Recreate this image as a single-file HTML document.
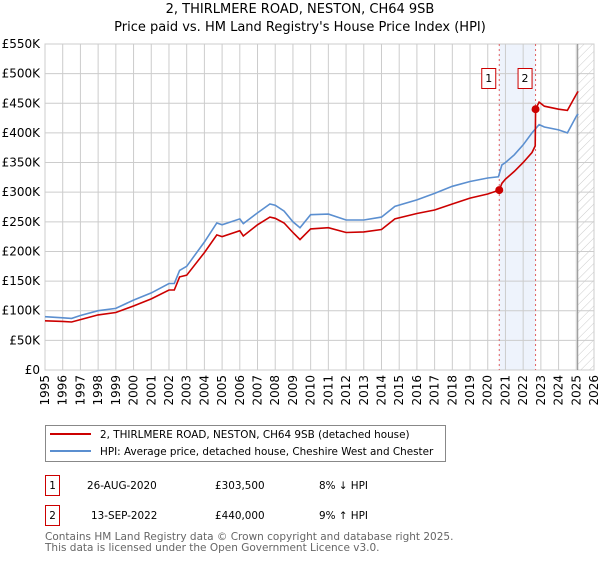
<!DOCTYPE html>
<html><head><meta charset="utf-8"><style>
body{margin:0;background:#fff;font-family:"DejaVu Sans","Liberation Sans",sans-serif;}
svg text{font-family:"DejaVu Sans","Liberation Sans",sans-serif;}
</style></head><body>
<svg id="chart" width="600" height="560" xmlns="http://www.w3.org/2000/svg">
<defs><pattern id="hatch" width="6" height="6" patternUnits="userSpaceOnUse" patternTransform="rotate(45)"><line x1="0" y1="0" x2="0" y2="6" stroke="#ccc" stroke-width="1"/></pattern></defs>
<text x="300" y="13" font-size="13" text-anchor="middle">2, THIRLMERE ROAD, NESTON, CH64 9SB</text>
<text x="300" y="31" font-size="13" text-anchor="middle">Price paid vs. HM Land Registry's House Price Index (HPI)</text>
<g id="grid"></g><g id="marks"></g><g id="axes"></g>
<rect x="45.5" y="425.5" width="400" height="36" fill="#fff" stroke="#888"/>
<line x1="50" y1="434" x2="91" y2="434" stroke="#cc0000" stroke-width="2"/>
<text x="100" y="438" font-size="10.4">2, THIRLMERE ROAD, NESTON, CH64 9SB (detached house)</text>
<line x1="50" y1="451" x2="91" y2="451" stroke="#5b8fd0" stroke-width="2"/>
<text x="100" y="455" font-size="10.4">HPI: Average price, detached house, Cheshire West and Chester</text>
<g font-size="10.4">
<rect x="45.5" y="475.5" width="14" height="20" fill="#fff" stroke="#cc0000"/><text x="52.5" y="489" text-anchor="middle">1</text>
<text x="87" y="489">26-AUG-2020</text><text x="215" y="489">£303,500</text><text x="319" y="489">8% ↓ HPI</text></g>
<g font-size="10.4">
<rect x="45.5" y="505.5" width="14" height="20" fill="#fff" stroke="#cc0000"/><text x="52.5" y="519" text-anchor="middle">2</text>
<text x="91" y="519">13-SEP-2022</text><text x="215" y="519">£440,000</text><text x="319" y="519">9% ↑ HPI</text></g>
<text x="45" y="540" font-size="10.5" fill="#666">Contains HM Land Registry data © Crown copyright and database right 2025.</text>
<text x="45" y="551" font-size="10.5" fill="#666">This data is licensed under the Open Government Licence v3.0.</text>
</svg>
<script>
const hpiYears=[1995,1996,1996.5,1997,1998,1999,2000,2001,2002,2002.3,2002.6,2003,2004,2004.7,2005,2006,2006.2,2007,2007.7,2008,2008.5,2009,2009.4,2010,2011,2012,2013,2014,2014.76,2016,2017,2018,2019,2020,2020.6,2020.8,2021,2021.5,2022,2022.5,2022.9,2023.2,2024,2024.5,2025,2025.1];
const hpiValues=[90,88,87,92,100,104,118,130,146,146,168,175,216,248,245,255,247,265,280,278,268,250,240,262,263,253,253,258,276,287,298,310,318,324,326,346,350,363,380,400,414,410,405,400,428,432];
const propYears=[1995,1996,1996.5,1997,1998,1999,2000,2001,2002,2002.3,2002.6,2003,2004,2004.7,2005,2006,2006.2,2007,2007.7,2008,2008.5,2009,2009.4,2010,2011,2012,2013,2014,2014.76,2016,2017,2018,2019,2020,2020.65,2020.8,2021,2021.5,2022,2022.5,2022.68,2022.7,2022.9,2023.2,2024,2024.5,2025,2025.1];
const propValues=[83,82,81,85,93,97,108,120,135,135,157,160,198,228,225,235,226,245,258,256,248,232,220,238,240,232,233,237,255,264,270,280,290,297,303.5,315,322,335,350,367,378,440,452,445,440,438,465,470];
const saleYears=[2020.65,2022.7];
const saleValues=[303.5,440];
const saleLabels=["1","2"];
const yTicks=[0,50,100,150,200,250,300,350,400,450,500,550];
const yTickLabels=["£0","£50K","£100K","£150K","£200K","£250K","£300K","£350K","£400K","£450K","£500K","£550K"];
const xTicks=[1995,1996,1997,1998,1999,2000,2001,2002,2003,2004,2005,2006,2007,2008,2009,2010,2011,2012,2013,2014,2015,2016,2017,2018,2019,2020,2021,2022,2023,2024,2025,2026];
const X0=45,X1=594,Y0=370,Y1=44;
const xs=y=>X0+(y-1995)/(2026-1995)*(X1-X0);
const ys=v=>Y0-v/550*(Y0-Y1);
const NS="http://www.w3.org/2000/svg";
function mk(p,t,a){const e=document.createElementNS(NS,t);for(const k in a)e.setAttribute(k,a[k]);p.appendChild(e);return e;}
const grid=document.getElementById('grid'),marks=document.getElementById('marks'),axes=document.getElementById('axes');
mk(grid,'rect',{x:X0,y:Y1,width:X1-X0,height:Y0-Y1,fill:'#fff',stroke:'#ccc'});
const sh=mk(grid,'rect',{x:xs(saleYears[0]),y:Y1,width:xs(saleYears[1])-xs(saleYears[0]),height:Y0-Y1,fill:'#eef3fc'});


const ht=mk(grid,'rect',{x:xs(2025.08),y:Y1,width:X1-xs(2025.08),height:Y0-Y1,fill:'url(#hatch)'});


yTicks.forEach((v,i)=>{
 mk(grid,'line',{x1:X0,x2:X1,y1:ys(v),y2:ys(v),stroke:'#ccc'});
 const t=mk(axes,'text',{x:X0-5,y:ys(v)+4,'font-size':12,'text-anchor':'end'});t.textContent=yTickLabels[i];
 
 
});
xTicks.forEach(y=>{
 mk(grid,'line',{x1:xs(y),x2:xs(y),y1:Y1,y2:Y0,stroke:'#ccc'});
 const t=mk(axes,'text',{x:0,y:0,'font-size':12,'text-anchor':'end',transform:`translate(${xs(y)+4},${Y0+5}) rotate(-90)`});t.textContent=y;
 
 
});
mk(grid,'line',{x1:xs(2025.08),x2:xs(2025.08),y1:Y1,y2:Y0,stroke:'#888'});
saleYears.forEach((y,i)=>{
 const l=mk(grid,'line',{x1:xs(y),x2:xs(y),y1:Y1,y2:Y0,stroke:'#e06060','stroke-dasharray':'2,3'});
 
 
 const b=mk(marks,'rect',{x:xs(y)-17.5,y:68.5,width:14,height:20,fill:'#fff',stroke:'#cc0000'});
 
 
 const t=mk(marks,'text',{x:xs(y)-10.5,y:82,'font-size':11,'text-anchor':'middle'});t.textContent=saleLabels[i];
});
function path(xa,va,c,name){
 const d=xa.map((y,i)=>(i?'L':'M')+xs(y).toFixed(1)+','+ys(va[i]).toFixed(1)).join('');
 const p=mk(marks,'path',{d:d,fill:'none',stroke:c,'stroke-width':1.6});
 
 
}
path(hpiYears,hpiValues,'#5b8fd0','hpi-line');
path(propYears,propValues,'#cc0000','property-price-line');
saleYears.forEach((y,i)=>{
 const c=mk(marks,'circle',{cx:xs(y),cy:ys(saleValues[i]),r:4,fill:'#cc0000'});
 
 
});
</script>
</body></html>
